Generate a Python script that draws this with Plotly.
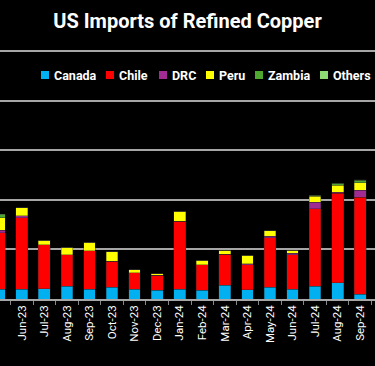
import plotly.graph_objects as go

months = ["May-23", "Jun-23", "Jul-23", "Aug-23", "Sep-23", "Oct-23", "Nov-23", "Dec-23",
          "Jan-24", "Feb-24", "Mar-24", "Apr-24", "May-24", "Jun-24", "Jul-24", "Aug-24", "Sep-24"]
canada = [3.9, 3.9, 4.2, 5.2, 3.9, 4.8, 3.9, 3.6, 3.9, 3.5, 5.5, 3.8, 4.8, 4.0, 5.1, 6.6, 2.0]
chile  = [22.8, 28.9, 17.7, 12.6, 15.6, 10.4, 6.7, 6.0, 27.5, 10.3, 12.6, 10.1, 19.9, 13.8, 31.2, 36.0, 39.0]
drc    = [1.1, 0.7, 0.0, 0.0, 0.0, 0.0, 0.0, 0.0, 0.0, 0.0, 0.0, 0.3, 0.7, 0.6, 2.8, 0.5, 2.9]
peru   = [5.0, 3.2, 1.8, 3.1, 3.4, 3.9, 1.1, 0.5, 3.9, 1.8, 1.6, 3.4, 2.1, 1.2, 2.4, 2.7, 2.9]
zambia = [1.1, 0.0, 0.0, 0.0, 0.0, 0.0, 0.0, 0.0, 0.0, 0.0, 0.0, 0.0, 0.0, 0.0, 0.4, 0.8, 1.1]
others = [0.3, 0.0, 0.0, 0.0, 0.0, 0.0, 0.0, 0.0, 0.0, 0.0, 0.0, 0.0, 0.0, 0.0, 0.0, 0.0, 0.2]

series_names = ["Canada", "Chile", "DRC", "Peru", "Zambia", "Others"]
series_values = [canada, chile, drc, peru, zambia, others]
series_colors = ["#00B0F0", "#FF0000", "#A02B93", "#FFFF00", "#4EA72E", "#8ED973"]

FONT = "Roboto, Liberation Sans, Arial, sans-serif"
W, H = 375, 366
T, B = 46, 67
PH = H - T - B
YMAX = 102

fig = go.Figure()
for name, vals, color in zip(series_names, series_values, series_colors):
    fig.add_trace(go.Bar(
        x=months, y=vals, name=name, showlegend=False,
        marker=dict(color=color, line=dict(width=0.6, color="rgba(40,40,40,0.6)")),
    ))

# Legend row (drawn as squares + labels, one per series)
legend_sq_x = [41, 106, 159, 206, 255, 320]
legend_y = 75
for name, color, sx in zip(series_names, series_colors, legend_sq_x):
    fig.add_shape(type="rect", xref="paper", yref="paper",
                  x0=sx / W, x1=(sx + 8) / W,
                  y0=(H - B - legend_y - 4) / PH, y1=(H - B - legend_y + 4) / PH,
                  fillcolor=color, line=dict(width=0))
    fig.add_annotation(text="<b>" + name + "</b>", xref="paper", yref="paper",
                       x=(sx + 10.5) / W, y=(H - B - legend_y) / PH,
                       xanchor="left", yanchor="middle", showarrow=False,
                       font=dict(size=12.5, color="white", family=FONT))

fig.update_layout(
    barmode="stack",
    bargap=0.48,
    width=W, height=H,
    margin=dict(l=0, r=0, t=T, b=B, pad=0),
    paper_bgcolor="black", plot_bgcolor="black",
    font=dict(family=FONT, color="white"),
    title=dict(text="<b>US Imports of Refined Copper</b>", x=0.5, xanchor="center",
               y=1 - 14 / H, yanchor="top", font=dict(size=20, color="white", family=FONT)),
    showlegend=False,
    xaxis=dict(
        type="category", range=[0.034, 16.656], tickangle=-90,
        tickfont=dict(size=11.5, color="white", family=FONT),
        ticks="outside", ticklen=4, tickcolor="#888888", tickson="boundaries",
        showline=True, linecolor="#a6a6a6", linewidth=1.5, showgrid=False, zeroline=False,
        automargin=False,
    ),
    yaxis=dict(range=[0, YMAX], tickmode="array", tickvals=[0, 20, 40, 60, 80, 100],
               showgrid=True, gridcolor="#a6a6a6", gridwidth=1.5,
               showticklabels=False, zeroline=False, showline=False, fixedrange=True,
               automargin=False),
)

fig.write_html("out.html", config={"displayModeBar": False},
               post_script="document.body.style.margin='0';document.body.style.background='black';")
